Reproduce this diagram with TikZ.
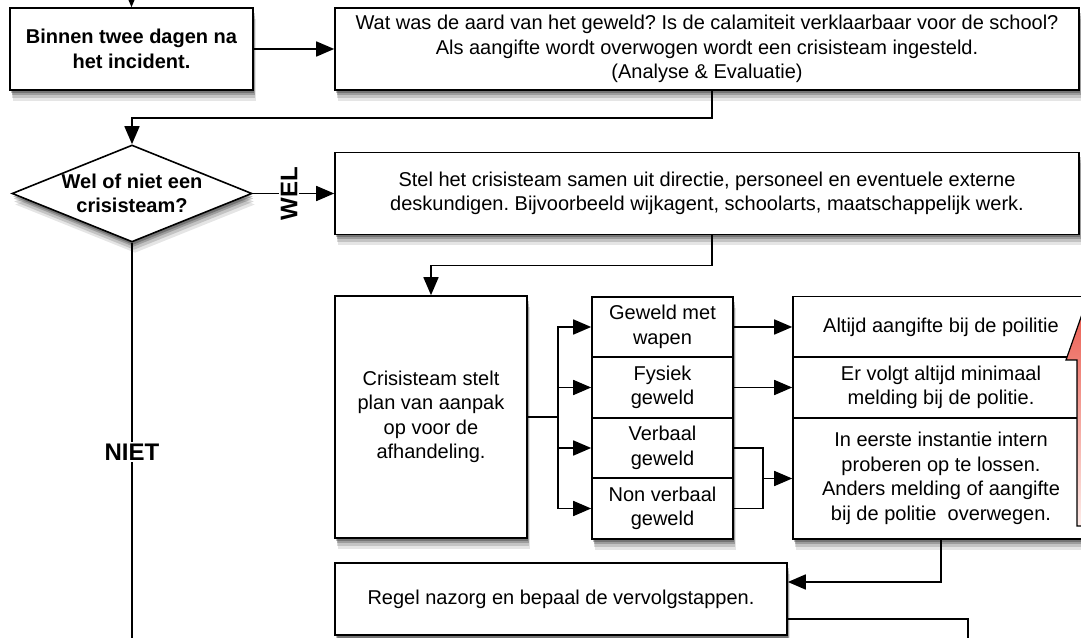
\documentclass[tikz,border=0pt]{standalone}
\usepackage{fontspec}
\setmainfont{Liberation Sans}
\usetikzlibrary{arrows.meta,shapes.geometric,shadows}

\definecolor{pijlrood}{RGB}{232,62,48}
\definecolor{pijlroze}{RGB}{253,236,233}

\tikzset{
  box/.style={draw, line width=1.6pt, fill=white, align=center, inner sep=0pt,
    font=\fontsize{20}{24.5}\selectfont,
    drop shadow={shadow xshift=3pt, shadow yshift=-11pt, opacity=0.1, fill=black},
    drop shadow={shadow xshift=2pt, shadow yshift=-8pt, opacity=0.15, fill=black},
    drop shadow={shadow xshift=1.5pt, shadow yshift=-5pt, opacity=0.2, fill=black},
    drop shadow={shadow xshift=1pt, shadow yshift=-3pt, opacity=0.25, fill=black}},
  boldbox/.style={box, font=\fontsize{20}{24.5}\selectfont\bfseries},
  link/.style={line width=1.6pt},
  tag/.style={fill=white, inner sep=1.5pt, font=\fontsize{24}{28}\selectfont\bfseries}
}

\begin{document}
\frenchspacing
\begin{tikzpicture}[x=1pt,y=1pt,>={Triangle[length=18pt,width=15pt]}]
\useasboundingbox (0,0) rectangle (1081,637);
\clip (0,0) rectangle (1081,637);

% stap 1 en analyse
\node[boldbox, minimum width=243pt, minimum height=82pt] (incident) at (131.5,588) {Binnen twee dagen na\\het incident.};
\node[box, minimum width=744pt, minimum height=82pt] (analyse) at (707,588) {Wat was de aard van het geweld? Is de calamiteit verklaarbaar voor de school?\\Als aangifte wordt overwogen wordt een crisisteam ingesteld.\\(Analyse \& Evaluatie)};

% keuze crisisteam
\node[boldbox, diamond, aspect=2.47, minimum width=240pt, minimum height=97pt, inner sep=-6pt] (keuze) at (132,443.5) {Wel of niet een\\crisisteam?};
\node[box, minimum width=744pt, minimum height=82pt] (team) at (707,443.5) {Stel het crisisteam samen uit directie, personeel en eventuele externe\\deskundigen. Bijvoorbeeld wijkagent, schoolarts, maatschappelijk werk.};

% plan van aanpak
\node[box, minimum width=192pt, minimum height=242pt] (plan) at (431,220) {Crisisteam stelt\\plan van aanpak\\op voor de\\afhandeling.};
\foreach \i/\y/\txt in {1/310/{Geweld met\\wapen},2/249.5/{Fysiek\\geweld},3/189/{Verbaal\\geweld},4/128.5/{Non verbaal\\geweld}}
  \node[box, minimum width=141pt, minimum height=60.5pt] (soort\i) at (662.5,\y) {\txt};

\node[box, minimum width=296pt, minimum height=61pt] (maatregel1) at (941,310) {Altijd aangifte bij de poilitie};
\node[box, minimum width=296pt, minimum height=61pt] (maatregel2) at (941,249.5) {Er volgt altijd minimaal\\melding bij de politie.};
\node[box, minimum width=296pt, minimum height=121pt] (maatregel3) at (941,158.5) {In eerste instantie intern\\proberen op te lossen.\\Anders melding of aangifte\\bij de politie\ \ overwegen.};

\node[box, minimum width=452pt, minimum height=72pt] (nazorg) at (561,38) {Regel nazorg en bepaal de vervolgstappen.};

% rode pijl
\draw[line width=1.2pt, top color=pijlrood, bottom color=pijlroze]
  (1077,111) -- (1077,277) -- (1066,277) -- (1100,374) -- (1134,277) -- (1123,277) -- (1123,111) -- cycle;

% verbindingen
\coordinate (start) at (131.5,645);
\coordinate (knik1) at (712,519);
\coordinate (knik2) at (712,371.5);
\coordinate (fork) at (558,220);
\coordinate (samen) at (763,158.5);
\coordinate (knik3) at (941,55);
\coordinate (knik4) at (968,18);
\coordinate (einde) at (132,-5);

\draw[link,->] (start) -- (incident.north);
\draw[link,->] (incident.east) -- (analyse.west);
\draw[link,->] (analyse.south -| knik1) -- (knik1) -| (keuze.north);
\draw[link,->] (keuze.east) -- (team.west);
\draw[link,->] (team.south -| knik2) -- (knik2) -| (plan.north);
\draw[link] (plan.east) -- (fork);
\foreach \i in {1,...,4}
  \draw[link,->] (fork) |- (soort\i.west);
\draw[link,->] (soort1.east) -- (maatregel1.west);
\draw[link,->] (soort2.east) -- (maatregel2.west);
\draw[link] (soort3.east) -| (samen);
\draw[link] (soort4.east) -| (samen);
\draw[link,->] (samen) -- (maatregel3.west);
\draw[link,->] (maatregel3.south) -- (knik3) -- (knik3 -| nazorg.east);
\draw[link] (knik4 -| nazorg.east) -- (knik4) -- (knik4 |- einde);
\draw[link] (keuze.south) -- (einde);

% labels op de lijnen
\node[tag, rotate=90] (wel) at (289,443.5) {WEL};
\node[tag] (niet) at (132,185) {NIET};
\end{tikzpicture}
\end{document}
